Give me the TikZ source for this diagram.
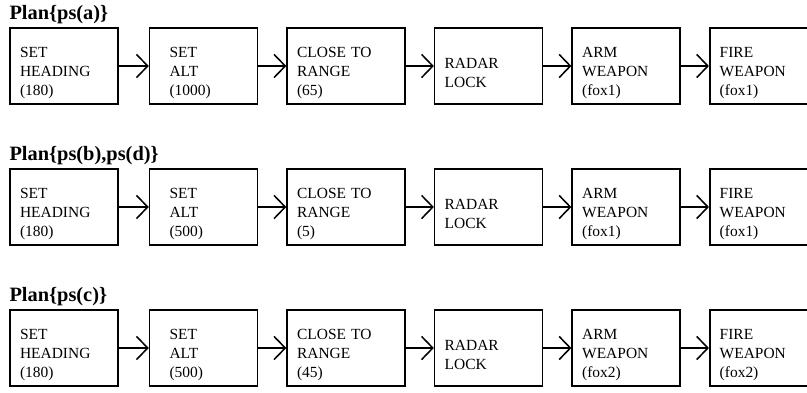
\documentclass[tikz,border=0pt]{standalone}
\usepackage{fontspec}
\setmainfont{Liberation Serif}
\usetikzlibrary{arrows.meta,positioning}
\tikzset{
  stepbox/.style={draw,line width=1.1pt,minimum width=2.7cm,minimum height=1.9cm,
    text width=2.2cm,align=left,inner xsep=0pt,font=\fontsize{11}{13.4}\selectfont,
    execute at begin node={\rule{0pt}{17pt}}},
  widebox/.style={stepbox,minimum width=2.95cm,text width=2.45cm},
  lastbox/.style={stepbox,minimum width=2.65cm,text width=2.15cm},
  indentbox/.style={stepbox,text width=1.7cm},
  plantitle/.style={anchor=base west,inner sep=0pt,font=\fontsize{14.5}{17}\selectfont\bfseries},
  link/.style={line width=1.1pt,-{Straight Barb[length=0.28cm,width=0.58cm,line width=1.1pt]}},
}

\begin{document}
\begin{tikzpicture}[node distance=0.7cm]
\useasboundingbox (0,0) rectangle (20.175,-9.8);

% ---------- plan for ps(a) ----------
\begin{scope}[yshift=-1.65cm]
  \node[stepbox] (a1) at (1.6,0) {SET\\HEADING\\(180)};
  \node[indentbox,right=0.75cm of a1] (a2) {SET\\ALT\\(1000)};
  \node[widebox,right=of a2] (a3) {CLOSE TO\\RANGE\\(65)};
  \node[stepbox,right=of a3] (a4) {RADAR\\LOCK};
  \node[stepbox,right=of a4] (a5) {ARM\\WEAPON\\(fox1)};
  \node[lastbox,right=of a5] (a6) {FIRE\\WEAPON\\(fox1)};
  \node[plantitle] (ta) at ([yshift=0.2cm]a1.north west) {Plan\{ps(a)\}};
  \foreach \i/\j in {1/2,2/3,3/4,4/5,5/6}
    \draw[link] (a\i) -- (a\j);
\end{scope}

% ---------- plan for ps(b), ps(d) ----------
\begin{scope}[yshift=-5.175cm]
  \node[stepbox] (b1) at (1.6,0) {SET\\HEADING\\(180)};
  \node[indentbox,right=0.75cm of b1] (b2) {SET\\ALT\\(500)};
  \node[widebox,right=of b2] (b3) {CLOSE TO\\RANGE\\(5)};
  \node[stepbox,right=of b3] (b4) {RADAR\\LOCK};
  \node[stepbox,right=of b4] (b5) {ARM\\WEAPON\\(fox1)};
  \node[lastbox,right=of b5] (b6) {FIRE\\WEAPON\\(fox1)};
  \node[plantitle] (tb) at ([yshift=0.2cm]b1.north west) {Plan\{ps(b),ps(d)\}};
  \foreach \i/\j in {1/2,2/3,3/4,4/5,5/6}
    \draw[link] (b\i) -- (b\j);
\end{scope}

% ---------- plan for ps(c) ----------
\begin{scope}[yshift=-8.7cm]
  \node[stepbox] (c1) at (1.6,0) {SET\\HEADING\\(180)};
  \node[indentbox,right=0.75cm of c1] (c2) {SET\\ALT\\(500)};
  \node[widebox,right=of c2] (c3) {CLOSE TO\\RANGE\\(45)};
  \node[stepbox,right=of c3] (c4) {RADAR\\LOCK};
  \node[stepbox,right=of c4] (c5) {ARM\\WEAPON\\(fox2)};
  \node[lastbox,right=of c5] (c6) {FIRE\\WEAPON\\(fox2)};
  \node[plantitle] (tc) at ([yshift=0.2cm]c1.north west) {Plan\{ps(c)\}};
  \foreach \i/\j in {1/2,2/3,3/4,4/5,5/6}
    \draw[link] (c\i) -- (c\j);
\end{scope}
\end{tikzpicture}
\end{document}
